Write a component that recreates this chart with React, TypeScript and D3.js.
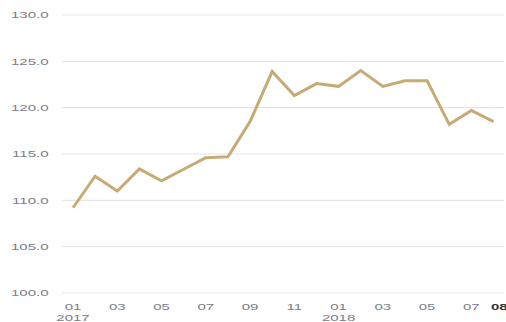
import React from "react";
import * as d3 from "d3";

const months = ["2017-01","2017-02","2017-03","2017-04","2017-05","2017-06","2017-07","2017-08","2017-09","2017-10","2017-11","2017-12","2018-01","2018-02","2018-03","2018-04","2018-05","2018-06","2018-07","2018-08"];
const values = [109.2,112.6,111.0,113.4,112.1,113.35,114.6,114.7,118.5,123.9,121.3,122.6,122.3,124.0,122.3,122.9,122.9,118.2,119.7,118.5];
const yTicks = [100,105,110,115,120,125,130];
const xTickLabels = ["01","03","05","07","09","11","01","03","05","07"];
const xTickIdx = [0,2,4,6,8,10,12,14,16,18];
const yearLabels = ["2017","2018"];
const yearIdx = [0,12];

const W = 506, H = 322;
const SX = 1.58;

export default function App() {
  const x = d3.scaleLinear().domain([0, months.length - 1]).range([73, 493.5]);
  const y = d3.scaleLinear().domain([100, 130]).range([293, 15]);
  const line = d3.line<number>().x((_, i) => x(i)).y(d => y(d));
  const font = "'Liberation Sans', Arial, sans-serif";
  const gray = "#7b8088";
  return (
    <svg width={W} height={H} style={{ position: "absolute", left: 0, top: 0, background: "#fff" }}>
      {yTicks.map(t => (
        <g key={t}>
          <line x1={62} x2={504} y1={y(t)} y2={y(t)} stroke="#e5e5e5" strokeWidth={1.2} />
          <text transform={`translate(48.5,${y(t) + 3.3}) scale(${SX},1)`} textAnchor="end" fontFamily={font} fontSize={9.5} fill={gray}>
            {t.toFixed(1)}
          </text>
        </g>
      ))}
      <path d={line(values) || ""} fill="none" stroke="#c6ab74" strokeWidth={3} strokeLinejoin="miter" />
      {xTickIdx.map((idx, k) => (
        <text key={k} transform={`translate(${x(idx)},${310}) scale(${SX},1)`} textAnchor="middle" fontFamily={font} fontSize={9.5} fill={gray}>
          {xTickLabels[k]}
        </text>
      ))}
      <text transform={`translate(491,${310}) scale(${SX},1)`} textAnchor="start" fontFamily={font} fontSize={9.5} fontWeight="bold" fill="#333">
        {months[months.length - 1].slice(5)}
      </text>
      {yearIdx.map((idx, k) => (
        <text key={k} transform={`translate(${x(idx)},${321}) scale(${SX},1)`} textAnchor="middle" fontFamily={font} fontSize={9.5} fill={gray}>
          {yearLabels[k]}
        </text>
      ))}
    </svg>
  );
}
